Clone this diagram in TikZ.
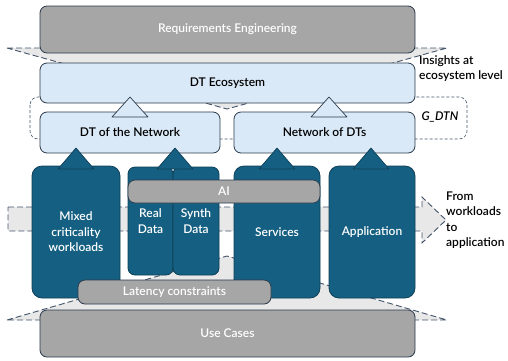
\documentclass[tikz,border=0pt]{standalone}
\usepackage{fontspec}
\setmainfont{Lato}[UprightFont=* Semibold, ItalicFont=* Semibold Italic]
\usetikzlibrary{positioning}
\definecolor{dtblue}{HTML}{156082}
\definecolor{dtline}{HTML}{0F3F57}
\definecolor{dtlight}{HTML}{DAE9F7}
\definecolor{dtgray}{HTML}{A6A6A6}
\definecolor{bandgray}{HTML}{E8E8E8}
\definecolor{edge}{HTML}{2B3A4A}
\definecolor{dashcol}{HTML}{44546A}

\begin{document}
\begin{tikzpicture}[x=1pt,y=-1pt,
  every node/.style={font=\fontsize{12}{15.5}\selectfont, inner sep=0pt, align=center},
  box/.style={draw=edge, line width=0.8pt, rounded corners=7pt},
  lightbox/.style={box, fill=dtlight, text=black},
  graybox/.style={box, fill=dtgray, text=white},
  darkbox/.style={box, fill=dtblue, draw=dtline, text=white, rounded corners=10pt},
  band/.style={fill=bandgray, draw=dashcol, line width=0.9pt, dash pattern=on 6pt off 3pt},
  tri light/.style={fill=dtlight, draw=edge, line width=0.7pt, line join=round},
  tri dark/.style={fill=dtblue, draw=dtline, line width=0.7pt, line join=round}]
  \useasboundingbox (0,0) rectangle (508,360);

  % background bands
  \draw[band] (7,48) -- (447,48) -- (227,109) -- cycle;
  \draw[band] (7,320) -- (227,256) -- (447,320) -- cycle;
  \draw[band] (8,207) -- (422,207) -- (422,197) -- (446,220) -- (422,243)
        -- (422,231) -- (8,231) -- cycle;
  \draw[dashcol, densely dashed, line width=0.6pt, rounded corners=8pt]
        (30,97) rectangle (467,139);

  % layers
  \node[graybox, minimum width=375pt, minimum height=47pt] (req) at (227.5,29.5)
        {Requirements Engineering};
  \node[lightbox, minimum width=375pt, minimum height=40pt] (eco) at (227.5,83)
        {DT Ecosystem};
  \node[lightbox, minimum width=180pt, minimum height=41pt] (dtnet) at (130,132.5)
        {DT of the Network};
  \node[lightbox, minimum width=181pt, minimum height=41pt] (netdt) at (324.5,132.5)
        {Network of DTs};

  \node[darkbox, minimum width=88pt, minimum height=132pt] (mixed) at (76,232)
        {Mixed\\criticality\\workloads};
  \node[darkbox, minimum width=45pt, minimum height=108pt, rounded corners=7pt] (real)
        at (150.5,221) {Real\\Data};
  \node[darkbox, minimum width=46pt, minimum height=108pt, rounded corners=7pt] (synth)
        at (196,221) {Synth\\Data};
  \node[darkbox, minimum width=86pt, minimum height=132pt] (services) at (277,232)
        {Services};
  \node[darkbox, minimum width=86pt, minimum height=132pt] (app) at (372,232)
        {Application};
  \node[graybox, minimum width=192pt, minimum height=23pt] (ai) at (224,191.5) {AI};
  \node[graybox, minimum width=193pt, minimum height=24pt] (latency) at (174.5,292)
        {Latency constraints};
  \node[graybox, minimum width=375pt, minimum height=47pt] (usecases) at (227.5,333.5)
        {Use Cases};

  % side labels
  \node[anchor=west, align=left] (insights) at (419,68.5) {Insights at\\ecosystem level};
  \node (gdtn) at (440,117) {\itshape G\_DTN};
  \node[anchor=west, align=left] (fromto) at (446,220)
        {From\\workloads\\to\\application};

  % arrow heads between layers
  \draw[tri light] (112,117) -- (130,97) -- (148,117) -- cycle;
  \draw[tri light] (311,117) -- (329,97) -- (347,117) -- cycle;
  \draw[tri dark] (58,169) -- (76,148) -- (94,169) -- cycle;
  \draw[tri dark] (157,169) -- (175,148) -- (193,169) -- cycle;
  \draw[tri dark] (259,169) -- (277,148) -- (295,169) -- cycle;
  \draw[tri dark] (353,169) -- (371,148) -- (389,169) -- cycle;
\end{tikzpicture}
\end{document}
